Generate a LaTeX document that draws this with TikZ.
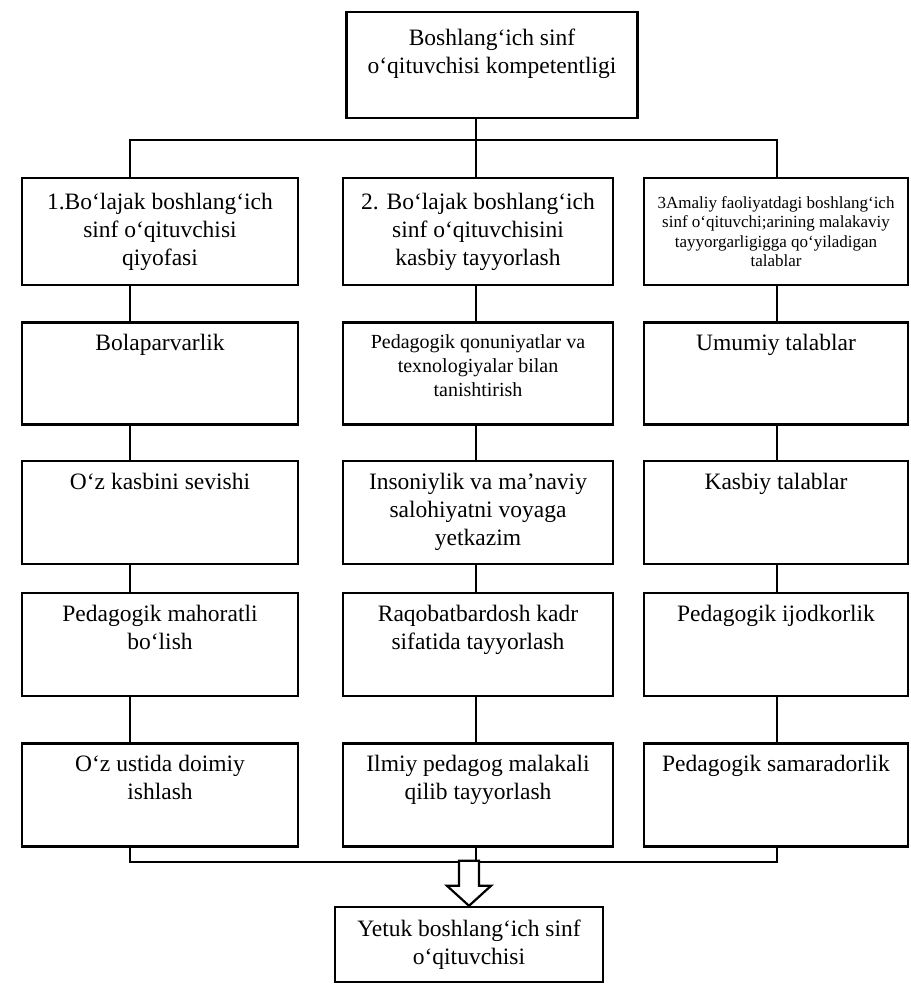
\documentclass[tikz,border=0pt]{standalone}
\usepackage{fontspec}
\setmainfont{Liberation Serif}
\usepackage{tikz}
\usetikzlibrary{positioning,calc}
\newcommand{\toptxt}[3]{\parbox[c][#2][t]{#1}{\centering\vspace*{12pt}#3}}
\newcommand{\midtxt}[3]{\parbox[c][#2][c]{#1}{\centering #3}}

\begin{document}
\begin{tikzpicture}[
x=1pt,y=-1pt,
cellbox/.style={draw,line width=2.4pt,inner sep=0pt,font=\fontsize{23.5}{28}\selectfont},
smallbox/.style={cellbox,font=\fontsize{20}{24}\selectfont},
tinybox/.style={cellbox,font=\fontsize{17}{19.5}\selectfont},
link/.style={line width=2.2pt}
]
\useasboundingbox (0,0) rectangle (910,984);
\coordinate (lsp) at (130,0);
\coordinate (msp) at (476,0);
\coordinate (rsp) at (777,0);
\coordinate (topbar) at (0,140);
\coordinate (botbar) at (0,862);
% top and headers
\node[cellbox] (top) at (492,65) {\parbox[c][106pt][t]{291pt}{\centering\vspace*{17pt}Boshlang‘ich sinf\\o‘qituvchisi kompetentligi}};
\node[cellbox] (h1) at (160,231.5) {\midtxt{276pt}{107pt}{1.Bo‘lajak boshlang‘ich\\sinf o‘qituvchisi\\qiyofasi}};
\node[cellbox] (h2) at (478,231.5) {\midtxt{270pt}{107pt}{2. Bo‘lajak boshlang‘ich\\sinf o‘qituvchisini\\kasbiy tayyorlash}};
\node[tinybox] (h3) at (776,231.5) {\midtxt{264pt}{107pt}{3Amaliy faoliyatdagi boshlang‘ich\\sinf o‘qituvchi;arining malakaviy\\tayyorgarligigga qo‘yiladigan\\talablar}};
% left column
\node[cellbox,below=35pt of h1] (l1) {\toptxt{276pt}{102pt}{Bolaparvarlik}};
\node[cellbox,below=34pt of l1] (l2) {\toptxt{276pt}{103pt}{O‘z kasbini sevishi}};
\node[cellbox,below=27pt of l2] (l3) {\toptxt{276pt}{103pt}{Pedagogik mahoratli\\bo‘lish}};
\node[cellbox,below=45pt of l3] (l4) {\toptxt{276pt}{103pt}{O‘z ustida doimiy\\ishlash}};
% middle column
\node[smallbox,below=35pt of h2] (m1) {\toptxt{270pt}{102pt}{Pedagogik qonuniyatlar va\\texnologiyalar bilan\\tanishtirish}};
\node[cellbox,below=34pt of m1] (m2) {\toptxt{270pt}{103pt}{Insoniylik va ma’naviy\\salohiyatni voyaga\\yetkazim}};
\node[cellbox,below=27pt of m2] (m3) {\toptxt{270pt}{103pt}{Raqobatbardosh kadr\\sifatida tayyorlash}};
\node[cellbox,below=45pt of m3] (m4) {\toptxt{270pt}{103pt}{Ilmiy pedagog malakali\\qilib tayyorlash}};
% right column
\node[cellbox,below=35pt of h3] (r1) {\toptxt{264pt}{102pt}{Umumiy talablar}};
\node[cellbox,below=34pt of r1] (r2) {\toptxt{264pt}{103pt}{Kasbiy talablar}};
\node[cellbox,below=27pt of r2] (r3) {\toptxt{264pt}{103pt}{Pedagogik ijodkorlik}};
\node[cellbox,below=45pt of r3] (r4) {\toptxt{264pt}{103pt}{Pedagogik samaradorlik}};
% result
\node[cellbox] (fin) at (469,944.5) {\midtxt{268pt}{75pt}{Yetuk boshlang‘ich sinf\\o‘qituvchisi}};
% links
\draw[link] (top.south -| msp) -- (h2.north -| msp);
\draw[link] (h1.north -| lsp) -- (lsp |- topbar) -- (rsp |- topbar) -- (h3.north -| rsp);
\draw[link] (h1.south -| lsp) -- (l1.north -| lsp);
\draw[link] (l1.south -| lsp) -- (l2.north -| lsp);
\draw[link] (l2.south -| lsp) -- (l3.north -| lsp);
\draw[link] (l3.south -| lsp) -- (l4.north -| lsp);
\draw[link] (h2.south -| msp) -- (m1.north -| msp);
\draw[link] (m1.south -| msp) -- (m2.north -| msp);
\draw[link] (m2.south -| msp) -- (m3.north -| msp);
\draw[link] (m3.south -| msp) -- (m4.north -| msp);
\draw[link] (h3.south -| rsp) -- (r1.north -| rsp);
\draw[link] (r1.south -| rsp) -- (r2.north -| rsp);
\draw[link] (r2.south -| rsp) -- (r3.north -| rsp);
\draw[link] (r3.south -| rsp) -- (r4.north -| rsp);
\draw[link] (l4.south -| lsp) -- (lsp |- botbar) -- (rsp |- botbar) -- (r4.south -| rsp);
\draw[link] (m4.south -| msp) -- (msp |- botbar);
% hollow arrow
\draw[link,fill=white] (fin.north) -- ++(-22,-20) -- ++(12,0) -- ++(0,-25) -- ++(20,0) -- ++(0,25) -- ++(12,0) -- cycle;
\end{tikzpicture}
\end{document}
